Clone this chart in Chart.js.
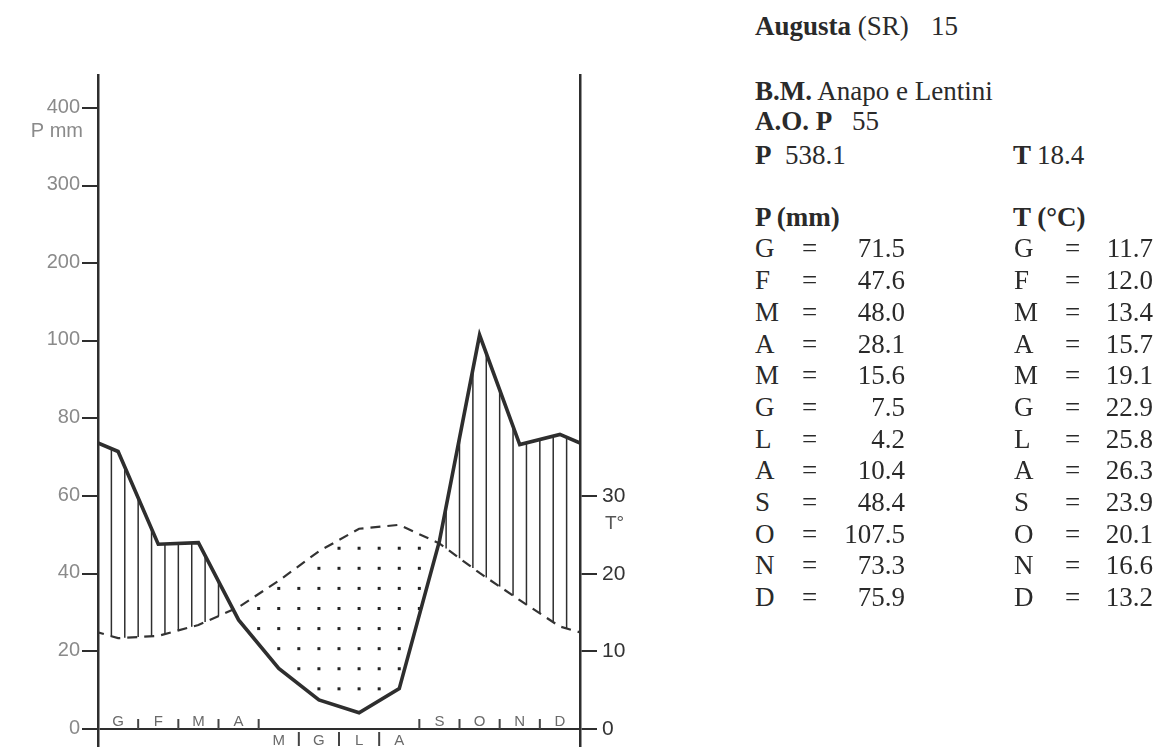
<!DOCTYPE html>
<html>
<head>
<meta charset="utf-8">
<script src="https://cdn.jsdelivr.net/npm/chart.js@4/dist/chart.umd.min.js"></script>
<style>
  body { margin: 0; background: #fff; }
  #wrap { position: relative; width: 1159px; height: 753px; overflow: hidden; }
  #chartBox { position: absolute; left: 0; top: 0; width: 720px; height: 780px; }
  .t { position: absolute; font-family: "Liberation Serif", "Times New Roman", serif; font-size: 27px; line-height: 27px; color: #2a2a2a; white-space: pre; }
  .r { text-align: right; width: 200px; }
</style>
</head>
<body>
<div id="wrap">
  <div id="chartBox"><canvas id="climate" width="720" height="780"></canvas></div>
  <div id="info"></div>
</div>
<script>
// monthly climate data, Augusta (SR)
const months = ['G', 'F', 'M', 'A', 'M', 'G', 'L', 'A', 'S', 'O', 'N', 'D'];
const precip = [71.5, 47.6, 48.0, 28.1, 15.6, 7.5, 4.2, 10.4, 48.4, 107.5, 73.3, 75.9];
const temp = [11.7, 12.0, 13.4, 15.7, 19.1, 22.9, 25.8, 26.3, 23.9, 20.1, 16.6, 13.2];
const precipTicks = [0, 20, 40, 60, 80, 100, 200, 300, 400];
const tempTicks = [0, 10, 20, 30];
const dryMonths = [4, 5, 6, 7];

const INK = '#2e2e2e';

// precipitation axis: linear up to 100 mm, compressed 1:5 above
class RainScale extends Chart.LinearScale {
  static id = 'rain';
  static defaults = Chart.LinearScale.defaults;
  _t(v) { return v <= 100 ? v : 100 + (v - 100) / 5; }
  getPixelForValue(v) {
    const a = this._t(this.min), b = this._t(this.max);
    return this.getPixelForDecimal((this._t(v) - a) / (b - a));
  }
  getValueForPixel(p) {
    const a = this._t(this.min), b = this._t(this.max);
    const t = a + this.getDecimalForPixel(p) * (b - a);
    return t <= 100 ? t : 100 + (t - 100) * 5;
  }
}
Chart.register(RainScale);

// wrap the year: December before January, January after December
function cyclic(vals) {
  const pts = vals.map((v, i) => ({ x: i + 0.5, y: v }));
  return [{ x: -0.5, y: vals[vals.length - 1] }, ...pts, { x: vals.length + 0.5, y: vals[0] }];
}

function yAt(points, x) {
  for (let i = 1; i < points.length; i++) {
    const a = points[i - 1], b = points[i];
    if (x >= a.x && x <= b.x) return a.y + (b.y - a.y) * (x - a.x) / (b.x - a.x);
  }
  return null;
}

function tickVal(c) {
  return c && c.tick ? c.tick.value : null;
}

const fillPlugin = {
  id: 'walterFill',
  beforeDatasetsDraw(chart) {
    const { ctx, chartArea: ca } = chart;
    const xs = chart.scales.x, ys = chart.scales.yP;
    const pPts = chart.getDatasetMeta(0).data, tPts = chart.getDatasetMeta(1).data;
    ctx.save();
    ctx.beginPath();
    ctx.rect(ca.left, ca.top, ca.width, ca.height);
    ctx.clip();
    // humid period: vertical hatching
    ctx.strokeStyle = INK;
    ctx.lineWidth = 1.5;
    for (let k = 1; k < 36; k++) {
      const x = xs.getPixelForValue(k / 3);
      const yp = yAt(pPts, x), yt = yAt(tPts, x);
      if (yp !== null && yt !== null && yt - yp > 2) {
        ctx.beginPath();
        ctx.moveTo(x, yp);
        ctx.lineTo(x, yt);
        ctx.stroke();
      }
    }
    // arid period: dots
    ctx.fillStyle = '#222';
    const zeroY = ys.getPixelForValue(0);
    const step = xs.getPixelForValue(0.5) - xs.getPixelForValue(0);
    for (let k = 1; k < 24; k++) {
      const x = xs.getPixelForValue(k / 2);
      const yp = yAt(pPts, x), yt = yAt(tPts, x);
      if (yp === null || yt === null) continue;
      for (let j = 1; j < 20; j++) {
        const y = zeroY - j * step;
        if (y > yt + 5 && y < yp - 5) ctx.fillRect(x - 1.5, y - 1.5, 3, 3);
      }
    }
    ctx.restore();
  },
  afterDraw(chart) {
    const { ctx } = chart;
    const xs = chart.scales.x, ys = chart.scales.yP, yt = chart.scales.yT;
    const zeroY = ys.getPixelForValue(0);
    ctx.save();
    // month labels and separators
    ctx.font = '15px "Liberation Sans", Arial, sans-serif';
    ctx.fillStyle = '#6a6a6a';
    ctx.textAlign = 'center';
    ctx.textBaseline = 'alphabetic';
    months.forEach((m, i) => {
      const below = dryMonths.includes(i);
      ctx.fillText(m, xs.getPixelForValue(i + 0.5), below ? zeroY + 16 : zeroY - 3);
    });
    ctx.strokeStyle = '#444';
    ctx.lineWidth = 2;
    for (let k = 1; k < months.length; k++) {
      const x = xs.getPixelForValue(k);
      const below = dryMonths.includes(k - 1) && dryMonths.includes(k);
      ctx.beginPath();
      ctx.moveTo(x, below ? zeroY + 3 : zeroY - 10);
      ctx.lineTo(x, below ? zeroY + 17 : zeroY);
      ctx.stroke();
    }
    // axis titles
    ctx.textBaseline = 'middle';
    ctx.font = '20px "Liberation Sans", Arial, sans-serif';
    ctx.fillStyle = '#8a8a8a';
    ctx.textAlign = 'right';
    ctx.fillText('P mm', 83, ys.getPixelForValue(400) + 23);
    ctx.font = '19px "Liberation Sans", Arial, sans-serif';
    ctx.fillStyle = '#555';
    ctx.textAlign = 'left';
    ctx.fillText('T°', 605, yt.getPixelForValue(30) + 28);
    ctx.restore();
  }
};

new Chart(document.getElementById('climate'), {
  type: 'line',
  data: {
    datasets: [
      {
        label: 'P',
        data: cyclic(precip),
        yAxisID: 'yP',
        borderColor: INK,
        borderWidth: 3.6,
        borderJoinStyle: 'miter',
        pointRadius: 0,
        tension: 0,
        clip: 0
      },
      {
        label: 'T',
        data: cyclic(temp),
        yAxisID: 'yT',
        borderColor: '#333',
        borderWidth: 2.2,
        borderDash: [10, 7],
        pointRadius: 0,
        tension: 0,
        clip: 0
      }
    ]
  },
  options: {
    responsive: false,
    animation: false,
    events: [],
    layout: { padding: { top: 75, bottom: 34, left: 0, right: 0 } },
    plugins: { legend: { display: false }, tooltip: { enabled: false } },
    scales: {
      x: { type: 'linear', min: 0, max: 12, display: false },
      yP: {
        type: 'rain',
        position: 'left',
        min: -4.38,
        max: 442.5,
        afterBuildTicks: s => { s.ticks = precipTicks.map(v => ({ value: v })); },
        afterFit: s => { s.width = 98; },
        border: { color: INK, width: 2.5 },
        grid: {
          color: c => (tickVal(c) === 0 ? INK : 'rgba(0,0,0,0)'),
          tickColor: INK,
          lineWidth: 2,
          tickLength: 16
        },
        ticks: {
          autoSkip: false,
          padding: 2,
          color: '#8a8a8a',
          font: { family: '"Liberation Sans", Arial, sans-serif', size: 20 },
          labelOffset: c => {
            const v = tickVal(c);
            if (v === null || v === 0) return -1;
            return v <= 100 ? -4 : -8;
          },
          callback: v => String(v)
        }
      },
      yT: {
        type: 'linear',
        position: 'right',
        min: -2.19,
        max: 84.25,
        afterBuildTicks: s => { s.ticks = tempTicks.map(v => ({ value: v })); },
        afterFit: s => { s.width = 140; },
        border: { color: INK, width: 2.5 },
        grid: { drawOnChartArea: false, color: INK, lineWidth: 2, tickLength: 17 },
        ticks: {
          autoSkip: false,
          padding: 5,
          color: '#333',
          font: { family: '"Liberation Sans", Arial, sans-serif', size: 21 },
          callback: v => String(v)
        }
      }
    }
  },
  plugins: [fillPlugin]
});

// info panel on the right
const info = document.getElementById('info');
function put(html, x, baseline, right) {
  const el = document.createElement('div');
  el.className = right ? 't r' : 't';
  el.innerHTML = html;
  el.style.left = (right ? x - 200 : x) + 'px';
  el.style.top = (baseline - 22.6) + 'px';
  info.appendChild(el);
}
put('<b>Augusta</b> (SR)', 755, 36);
put('15', 931, 36);
put('<b>B.M.</b> Anapo e Lentini', 755, 101);
put('<b>A.O. P</b>', 755, 131);
put('55', 852, 131);
put('<b>P</b>', 755, 165);
put('538.1', 785, 165);
put('<b>T</b>', 1013, 165);
put('18.4', 1037, 165);
put('<b>P (mm)</b>', 755, 227);
put('<b>T (°C)</b>', 1013, 227);
months.forEach((m, i) => {
  const base = 258 + 31.7 * i;
  put(m, 755, base);
  put('=', 802, base);
  put(precip[i].toFixed(1), 905, base, true);
  put(m, 1014, base);
  put('=', 1065, base);
  put(temp[i].toFixed(1), 1153, base, true);
});
</script>
</body>
</html>
